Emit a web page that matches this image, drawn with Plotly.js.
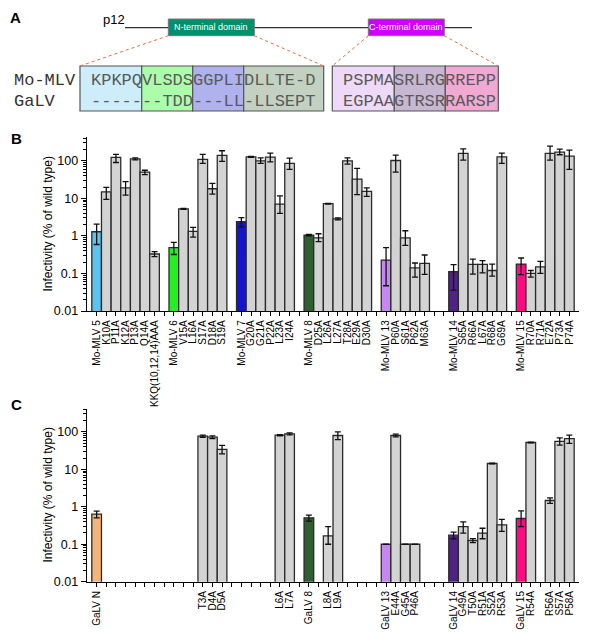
<!DOCTYPE html>
<html>
<head>
<meta charset="utf-8">
<script src="https://cdn.plot.ly/plotly-3.0.1.min.js"></script>
<style>html,body{margin:0;padding:0;background:#fff;}#chart{width:600px;height:636px;}</style>
</head>
<body>
<div id="chart"></div>
<script>
// ---------- Panel B data (slots, '' = empty slot) ----------
const labelsB = ['Mo-MLV 5','K10A','P11A','K12A','P13A','Q14A','KKQ(10,12,14)AAA','',
  'Mo-MLV 6','V15A','L16A','S17A','D18A','S19A','',
  'Mo-MLV 7','G20A','G21A','P22A','L23A','I24A','',
  'Mo-MLV 8','D25A','L26A','L27A','T28A','E29A','D30A','',
  'Mo-MLV 13','P60A','S61A','P62A','M63A','','',
  'Mo-MLV 14','S65A','R66A','L67A','R68A','G69A','',
  'Mo-MLV 15','R70A','R71A','E72A','P73A','P74A'];
const valuesB = [1.29,14.9,123,19,113,50,0.33,null,
  0.49,5.27,1.32,109,18,139,null,
  2.38,128,100,125,7.0,85,null,
  1.05,0.89,7.2,2.85,100,32.6,15.3,null,
  0.227,102,0.89,0.14,0.185,null,null,
  0.111,157,0.174,0.174,0.12,128,null,
  0.178,0.1,0.15,157,170,133];
const errPlusB = [0.77,4.7,25,9,7,6,0.05,null,
  0.18,0.15,0.36,39,7,46,null,
  0.67,4,20,35,4.7,33,null,
  0.04,0.25,0.15,0.18,20,30,3.8,null,
  0.26,40,0.48,0.05,0.125,null,null,
  0.06,52,0.066,0.045,0.057,32,null,
  0.08,0.02,0.06,89,35,60];
const errMinusB = [0.70,5.5,33,6.8,7,7,0.05,null,
  0.17,0.15,0.39,24,5,43,null,
  0.63,4,15,31,3.0,26,null,
  0.04,0.19,0.15,0.18,18,20,4,null,
  0.18,52,0.33,0.06,0.09,null,null,
  0.075,53,0.078,0.07,0.035,43,null,
  0.085,0.02,0.05,53,25,74];

// ---------- Panel C data ----------
const labelsC = ['GaLV N','','','','','','','','','','','T3A','D4A','D5A','','','','','','L6A','L7A','',
  'GaLV 8','','L8A','L9A','','','','',
  'GaLV 13','E44A','G45A','P46A','','','',
  'GaLV 14','G49A','T50A','R51A','S52A','R53A','',
  'GaLV 15','R54A','','R56A','S57A','P58A'];
const valuesC = [0.634,null,null,null,null,null,null,null,null,null,null,76.8,72,33.9,null,null,null,null,null,81.6,88.5,null,
  0.506,null,0.167,80,null,null,null,null,
  0.1,80,0.1,0.1,null,null,null,
  0.175,0.297,0.126,0.197,14.3,0.33,null,
  0.486,52,null,1.47,56,66];
const errPlusC = [0.13,null,null,null,null,null,null,null,null,null,null,5,6,9.6,null,null,null,null,null,3,5,null,
  0.09,null,0.13,20,null,null,null,null,
  0,7,0,0,null,null,null,
  0.035,0.1,0.015,0.07,0.4,0.13,null,
  0.29,1,null,0.26,13,16];
const errMinusC = [0.13,null,null,null,null,null,null,null,null,null,null,5,6,8,null,null,null,null,null,3,5,null,
  0.09,null,0.067,18,null,null,null,null,
  0,7,0,0,null,null,null,
  0.035,0.1,0.015,0.057,0.4,0.11,null,
  0.19,1,null,0.24,12,17];

const yTickVals = [0.01,0.1,1,10,100];
const yTickText = ['0.01','0.1','1','10','100'];
const yTitle = 'Infectivity (% of wild type)';

// reference (wild-type) bar colours
const refColors = {
  'Mo-MLV 5':'#5bc3f0','Mo-MLV 6':'#22f022','Mo-MLV 7':'#1515cc','Mo-MLV 8':'#2f5e31',
  'Mo-MLV 13':'#c787f0','Mo-MLV 14':'#4e2383','Mo-MLV 15':'#ff0a84',
  'GaLV N':'#f3b679','GaLV 8':'#2f5e31','GaLV 13':'#c787f0','GaLV 14':'#4e2383','GaLV 15':'#ff0a84'
};
const grayFill = '#d3d3d3';

// ---------- Panel A sequence data ----------
const moN = ['KPKPQ','VLSDS','GGPLI','DLLTE-D'];
const gaN = ['-----','--TDD','---LL','-LLSEPT'];
const segColN = ['#cdedfb','#abfdab','#b0b2ee','#c2d1c2'];
const moC = ['PSPMA','SRLRG','RREPP'];
const gaC = ['EGPAA','GTRSR','RARSP'];
const segColC = ['#efd9f9','#c7b7d2','#f0a9d3'];

// ---------- helpers ----------
const W = 600, H = 636;
const px = x => x / W;
const py = y => 1 - y / H;
const slots = labelsB.map((_, i) => i);

function barTrace(labels, values, ep, em, xa, ya) {
  return {
    type: 'bar', x: slots, y: values, xaxis: xa, yaxis: ya,
    marker: {color: labels.map(l => refColors[l] || grayFill), line: {color: '#2a2a2a', width: 1.3}},
    error_y: {type: 'data', symmetric: false, array: ep, arrayminus: em, color: '#111', thickness: 1.3, width: 3},
    hoverinfo: 'x+y', showlegend: false
  };
}

const tickFont = {family: 'Liberation Sans, Arial', size: 10, color: '#000'};
function xAxis(labels, anchor) {
  return {
    anchor: anchor, domain: [px(87), px(579)], range: [-1, 50],
    tickmode: 'array', tickvals: slots, ticktext: labels, tickangle: -90,
    ticks: 'outside', ticklen: 4, tickwidth: 1, tickcolor: '#000',
    showline: true, linecolor: '#000', linewidth: 1.3, showgrid: false, zeroline: false,
    tickfont: tickFont, fixedrange: true
  };
}
function yAxis(anchor, dom, top) {
  return {
    anchor: anchor, domain: dom, type: 'log', range: [-2, top],
    tickmode: 'array', tickvals: yTickVals, ticktext: yTickText,
    ticks: 'outside', ticklen: 5, tickwidth: 1, tickcolor: '#000',
    minor: {ticks: 'outside', ticklen: 2.5, tickwidth: 1, tickcolor: '#000', dtick: 'D1', showgrid: false},
    showline: true, linecolor: '#000', linewidth: 1.3, showgrid: false, zeroline: false,
    tickfont: {family: 'Liberation Sans, Arial', size: 12.5, color: '#000'},
    fixedrange: true
  };
}

// ---------- Panel A shapes & annotations ----------
const shapes = [];
const annotations = [];
const CW = 10.2; // monospace char width at 17px

shapes.push({type:'line', xref:'paper', yref:'paper', x0:px(125), x1:px(472), y0:py(27.7), y1:py(27.7), line:{color:'#333', width:1.3}});
function domainBox(x0, x1, fill, text) {
  shapes.push({type:'rect', xref:'paper', yref:'paper', x0:px(x0), x1:px(x1), y0:py(19), y1:py(35.7), fillcolor:fill, line:{color:'#777', width:1}});
  annotations.push({xref:'paper', yref:'paper', x:px((x0+x1)/2), y:py(27.3), text:text, showarrow:false,
    font:{family:'Liberation Sans, Arial', size:9, color:'#fff'}, xanchor:'center', yanchor:'middle'});
}
domainBox(168.3, 254.3, '#00906d', 'N-terminal domain');
domainBox(368.3, 444.3, '#d000ff', 'C-terminal domain');
[[168.3,80],[254.3,323.7],[368.3,332.3],[444.3,498.3]].forEach(([xa, xb]) => {
  shapes.push({type:'line', xref:'paper', yref:'paper', x0:px(xa), y0:py(35.7), x1:px(xb), y1:py(66), line:{color:'#f06a3a', width:1, dash:'dot'}});
});

function alignBlock(boxX0, textX0, boxX1, moSegs, gaSegs, cols) {
  let x = boxX0;
  let cx = textX0;
  moSegs.forEach((s, i) => {
    const segEnd = (i === moSegs.length - 1) ? boxX1 : cx + s.length * CW;
    shapes.push({type:'rect', xref:'paper', yref:'paper', x0:px(x), x1:px(segEnd), y0:py(66), y1:py(111), fillcolor:cols[i], line:{color:'#555', width:1.2}, layer:'below'});
    x = segEnd; cx = cx + s.length * CW;
  });
  const font = {family:'Liberation Mono, Courier New, monospace', size:17, color:'#5a5a5a'};
  annotations.push({xref:'paper', yref:'paper', x:px(textX0 - 1), y:py(80.7), text:moSegs.join(''), showarrow:false, xanchor:'left', yanchor:'middle', font:font, borderpad:0});
  annotations.push({xref:'paper', yref:'paper', x:px(textX0 - 1), y:py(101.7), text:gaSegs.join(''), showarrow:false, xanchor:'left', yanchor:'middle', font:font, borderpad:0});
}
alignBlock(80, 90.7, 323.7, moN, gaN, segColN);
alignBlock(332.3, 343.3, 498.3, moC, gaC, segColC);

const nameFont = {family:'Liberation Mono, Courier New, monospace', size:17, color:'#333'};
annotations.push({xref:'paper', yref:'paper', x:px(12.5), y:py(80.7), text:'Mo-MLV', showarrow:false, xanchor:'left', yanchor:'middle', font:nameFont, borderpad:0});
annotations.push({xref:'paper', yref:'paper', x:px(12.5), y:py(101.7), text:'GaLV', showarrow:false, xanchor:'left', yanchor:'middle', font:nameFont, borderpad:0});
annotations.push({xref:'paper', yref:'paper', x:px(114), y:py(19.5), text:'p12', showarrow:false, xanchor:'center', yanchor:'middle', font:{family:'Liberation Sans, Arial', size:13, color:'#000'}});

// y-axis titles (placed as rotated text beside each panel)
[[224, 0], [495, 0]].forEach(([yc]) => {
  annotations.push({xref:'paper', yref:'paper', x:px(47.5), y:py(yc), text:yTitle, textangle:-90, showarrow:false,
    xanchor:'center', yanchor:'middle', font:{family:'Liberation Sans, Arial', size:12, color:'#000'}});
});

// panel letters
[['A',15.5,17],['B',16.5,138],['C',16.5,404.5]].forEach(([t, x, y]) => {
  annotations.push({xref:'paper', yref:'paper', x:px(x), y:py(y), text:'<b>'+t+'</b>', showarrow:false, xanchor:'center', yanchor:'middle', font:{family:'Liberation Sans, Arial', size:15, color:'#000'}});
});

const data = [
  barTrace(labelsB, valuesB, errPlusB, errMinusB, 'x', 'y'),
  barTrace(labelsC, valuesC, errPlusC, errMinusC, 'x2', 'y2')
];

const layout = {
  width: W, height: H, margin: {l:0, r:0, t:0, b:0, autoexpand:false},
  paper_bgcolor: '#fff', plot_bgcolor: 'rgba(0,0,0,0)',
  bargap: 0, showlegend: false,
  xaxis: xAxis(labelsB, 'y'),
  yaxis: yAxis('x', [py(311), py(136.7)], 2.642),
  xaxis2: xAxis(labelsC, 'y2'),
  yaxis2: yAxis('x2', [py(581.7), py(409)], 2.61),
  shapes: shapes, annotations: annotations
};

Plotly.newPlot('chart', data, layout, {displayModeBar: false, staticPlot: true});
</script>
</body>
</html>
